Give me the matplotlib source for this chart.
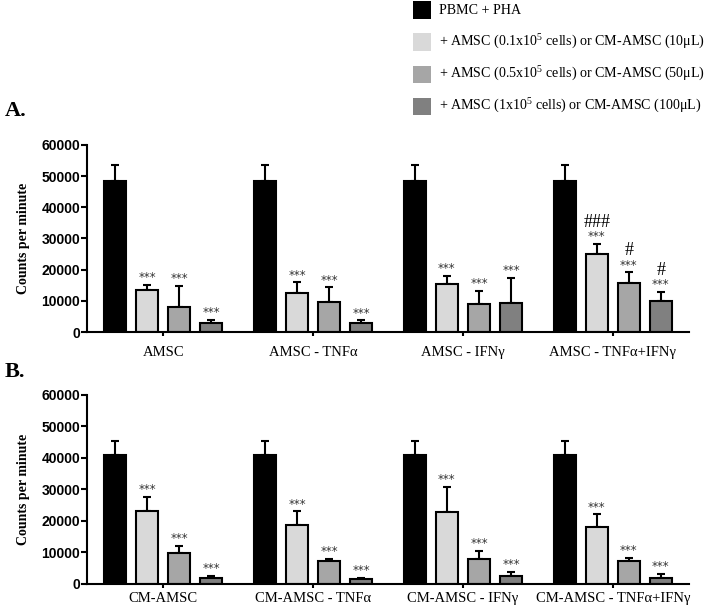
import matplotlib
matplotlib.use("Agg")
import matplotlib.pyplot as plt
from matplotlib.patches import Rectangle
import numpy as np

plt.rcParams['mathtext.fontset'] = 'custom'
plt.rcParams['mathtext.rm'] = 'Liberation Serif'
plt.rcParams['mathtext.it'] = 'Liberation Serif'

series_labels = ["PBMC + PHA",
                 "+ AMSC (0.1x10$^{5}$ cells) or CM-AMSC (10μL)",
                 "+ AMSC (0.5x10$^{5}$ cells) or CM-AMSC (50μL)",
                 "+ AMSC (1x10$^{5}$ cells) or CM-AMSC (100μL)"]
colors = ["#000000", "#d9d9d9", "#a6a6a6", "#808080"]

cats_A = ["AMSC", "AMSC - TNFα", "AMSC - IFNγ", "AMSC - TNFα+IFNγ"]
cats_B = ["CM-AMSC", "CM-AMSC - TNFα", "CM-AMSC - IFNγ", "CM-AMSC - TNFα+IFNγ"]

# values[series][group]
vals_A = [[48500, 48500, 48500, 48500],
          [13600, 12500, 15300, 24900],
          [8000, 9600, 8900, 15800],
          [2800, 2900, 9300, 10100]]
errs_A = [[5000, 5000, 5000, 5000],
          [1600, 3400, 2700, 3400],
          [6800, 4700, 4300, 3300],
          [1000, 800, 8100, 2800]]
stars_A = [["", "", "", ""],
           ["***", "***", "***", "***"],
           ["***", "***", "***", "***"],
           ["***", "***", "***", "***"]]
hash_A = [["", "", "", ""],
          ["", "", "", "###"],
          ["", "", "", "#"],
          ["", "", "", "#"]]

vals_B = [[41000, 41000, 41000, 41000],
          [23200, 18700, 22800, 18100],
          [9800, 7200, 7900, 7100],
          [1900, 1400, 2400, 1900]]
errs_B = [[4300, 4300, 4300, 4300],
          [4300, 4300, 8000, 3900],
          [2200, 600, 2500, 1000],
          [500, 300, 1200, 1100]]
stars_B = [["", "", "", ""],
           ["***", "***", "***", "***"],
           ["***", "***", "***", "***"],
           ["***", "***", "***", "***"]]
hash_B = [["", "", "", ""]] * 4

yticks = [0, 10000, 20000, 30000, 40000, 50000, 60000]

W, H = 709, 611
fig = plt.figure(figsize=(W / 100, H / 100), dpi=100)

serif = "Liberation Serif"
sans = "Liberation Sans"

gstep = 4.67
offsets = np.array([-1.5, -0.5, 0.5, 1.5])


def panel(rect, cats, vals, errs, stars, hashes, pad):
    ax = fig.add_axes(rect)
    centers = np.arange(len(cats)) * gstep
    for s in range(4):
        x = centers + offsets[s]
        v = np.array(vals[s])
        e = np.array(errs[s])
        ax.errorbar(x, v, yerr=[np.zeros_like(e), e], fmt='none', ecolor='black',
                    elinewidth=1.5, capsize=3.2, capthick=1.5, zorder=1)
        ax.bar(x, v, width=0.69, color=colors[s], edgecolor='black',
               linewidth=1.5, zorder=2)
        for i in range(len(cats)):
            top = v[i] + e[i]
            if stars[s][i]:
                ax.annotate(stars[s][i], (x[i], top), xytext=(0, 0.5),
                            textcoords='offset points', ha='center', va='bottom',
                            fontsize=8.5, color='#333333', family='DejaVu Sans')
            if hashes[s][i]:
                ax.annotate(hashes[s][i], (x[i], top), xytext=(0, 9.5),
                            textcoords='offset points', ha='center', va='bottom',
                            fontsize=13, color='black', family=serif)
    ax.set_xlim(-2.375, centers[-1] + 2.375)
    ax.set_ylim(0, 60000)
    ax.set_yticks(yticks)
    ax.set_yticklabels([str(t) for t in yticks], fontsize=10, fontweight='bold',
                       family=sans)
    ax.set_xticks(centers)
    ax.set_xticklabels(cats, fontsize=10.5, family=serif)
    ax.tick_params(axis='x', length=3, width=1.5, pad=pad)
    ax.tick_params(axis='y', length=4, width=1.5, pad=1)
    for sp in ['top', 'right']:
        ax.spines[sp].set_visible(False)
    for sp in ['left', 'bottom']:
        ax.spines[sp].set_linewidth(1.5)
    ax.set_ylabel("Counts per minute", fontsize=10, fontweight='bold',
                  family=serif, labelpad=8)
    return ax


axA = panel([87 / W, 1 - 332 / H, 602 / W, 187 / H], cats_A, vals_A, errs_A,
            stars_A, hash_A, 7)
axB = panel([87 / W, 1 - 583.5 / H, 602 / W, 188.5 / H], cats_B, vals_B, errs_B,
            stars_B, hash_B, 3)

fig.text(5 / W, 1 - 111 / H, "A.", fontsize=16, fontweight='bold', family=serif,
         va='center', ha='left')
fig.text(5 / W, 1 - 372 / H, "B.", fontsize=16, fontweight='bold', family=serif,
         va='center', ha='left')

# legend
row_y = [10, 42, 74, 106]
for s in range(4):
    yc = row_y[s]
    fig.add_artist(Rectangle((413 / W, 1 - (yc + 8.5) / H), 18 / W, 17 / H,
                             transform=fig.transFigure, facecolor=colors[s],
                             edgecolor='none'))
    fig.text(439 / W, 1 - yc / H, series_labels[s], fontsize=10.1, family=serif,
             va='center', ha='left')

fig.savefig("out.png", dpi=100)
